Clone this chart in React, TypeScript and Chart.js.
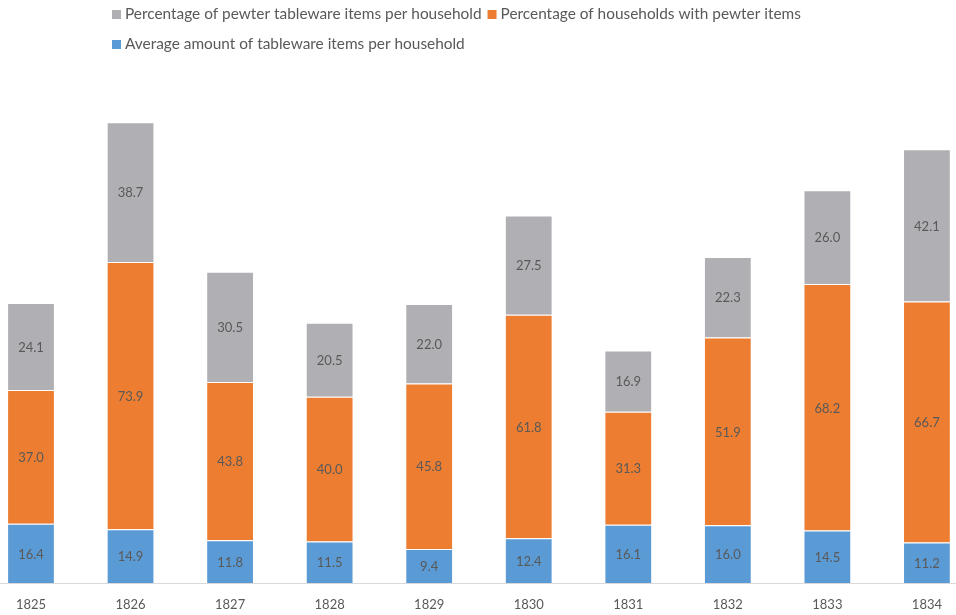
import React, { useEffect, useRef } from "react";
import { Chart, registerables } from "chart.js";

Chart.register(...registerables);

const years = ["1825", "1826", "1827", "1828", "1829", "1830", "1831", "1832", "1833", "1834"];
const avgItems = [16.4, 14.9, 11.8, 11.5, 9.4, 12.4, 16.1, 16.0, 14.5, 11.2];
const pctHouseholds = [37.0, 73.9, 43.8, 40.0, 45.8, 61.8, 31.3, 51.9, 68.2, 66.7];
const pctPewter = [24.1, 38.7, 30.5, 20.5, 22.0, 27.5, 16.9, 22.3, 26.0, 42.1];

const nameAvg = "Average amount of tableware items per household";
const nameHouseholds = "Percentage of households with pewter items";
const namePewter = "Percentage of pewter tableware items per household";

const BLUE = "#5B9BD5";
const ORANGE = "#ED7D31";
const GRAY = "#B0B0B4";
const TEXT = "#595959";
const FONT = "Lato, 'Open Sans', sans-serif";

const segmentLabels = {
  id: "segmentLabels",
  afterDatasetsDraw(chart: any) {
    const ctx = chart.ctx;
    ctx.save();
    ctx.font = `13px ${FONT}`;
    ctx.fillStyle = TEXT;
    ctx.textAlign = "center";
    ctx.textBaseline = "middle";
    chart.data.datasets.forEach((ds: any, di: number) => {
      const meta = chart.getDatasetMeta(di);
      meta.data.forEach((bar: any, i: number) => {
        const p = bar.getProps(["x", "y", "base"], true);
        ctx.fillText(Number(ds.data[i]).toFixed(1), p.x, (p.y + p.base) / 2 + 1);
      });
    });
    ctx.restore();
  },
};

const baseLine = {
  id: "baseLine",
  beforeDatasetsDraw(chart: any) {
    const ctx = chart.ctx;
    const y = chart.scales.y.getPixelForValue(0);
    ctx.save();
    ctx.strokeStyle = "#D9D9D9";
    ctx.lineWidth = 1;
    ctx.beginPath();
    ctx.moveTo(0, Math.round(y) + 0.5);
    ctx.lineTo(chart.width, Math.round(y) + 0.5);
    ctx.stroke();
    ctx.restore();
  },
};

const customLegend = {
  id: "customLegend",
  afterDraw(chart: any) {
    const ctx = chart.ctx;
    const items = chart.data.datasets
      .map((ds: any) => ({ text: ds.label, color: ds.backgroundColor }))
      .reverse();
    const x0 = 112;
    const maxW = 720;
    const box = 9;
    const gapText = 4;
    const gapItem = 6;
    const rowH = 30;
    const firstBaseline = 19;
    ctx.save();
    ctx.font = `15.4px ${FONT}`;
    ctx.textBaseline = "alphabetic";
    ctx.textAlign = "left";
    let x = x0;
    let row = 0;
    items.forEach((it: any) => {
      const w = box + gapText + ctx.measureText(it.text).width;
      if (x > x0 && x + w > x0 + maxW) {
        row += 1;
        x = x0;
      }
      const by = firstBaseline + row * rowH;
      ctx.fillStyle = it.color;
      ctx.fillRect(x, by - box, box, box);
      ctx.fillStyle = TEXT;
      ctx.fillText(it.text, x + box + gapText, by);
      x += w + gapItem;
    });
    ctx.restore();
  },
};

export default function App() {
  const ref = useRef<HTMLCanvasElement | null>(null);

  useEffect(() => {
    if (!ref.current) return;
    const mk = (label: string, data: number[], color: string) => ({
      label,
      data,
      backgroundColor: color,
      borderColor: "#FFFFFF",
      borderWidth: 1,
      borderSkipped: "start",
      categoryPercentage: 0.8,
      barPercentage: 0.6,
      clip: false,
    });
    const chart = new Chart(ref.current, {
      type: "bar",
      data: {
        labels: years,
        datasets: [
          mk(nameAvg, avgItems, BLUE),
          mk(nameHouseholds, pctHouseholds, ORANGE),
          mk(namePewter, pctPewter, GRAY),
        ] as any,
      },
      options: {
        responsive: false,
        animation: false,
        devicePixelRatio: 1,
        layout: { padding: { left: 31, right: 25, top: 77, bottom: 0 } },
        plugins: {
          legend: { display: false },
          tooltip: { enabled: false },
          title: { display: false },
        },
        scales: {
          x: {
            stacked: true,
            offset: false,
            grid: { display: false, drawTicks: false },
            border: { display: false },
            ticks: {
              color: TEXT,
              font: { family: FONT, size: 13 },
              padding: 14,
              maxRotation: 0,
              autoSkip: false,
            },
            afterFit: (scale: any) => {
              scale.height = 32;
            },
          },
          y: {
            stacked: true,
            display: false,
            min: 0,
            max: 140,
          },
        },
      },
      plugins: [baseLine, segmentLabels, customLegend],
    });
    return () => chart.destroy();
  }, []);

  return (
    <div style={{ position: "absolute", left: 0, top: 0, width: 956, height: 615, background: "#FFFFFF" }}>
      <canvas ref={ref} width={956} height={615} style={{ display: "block", width: 956, height: 615 }} />
    </div>
  );
}
